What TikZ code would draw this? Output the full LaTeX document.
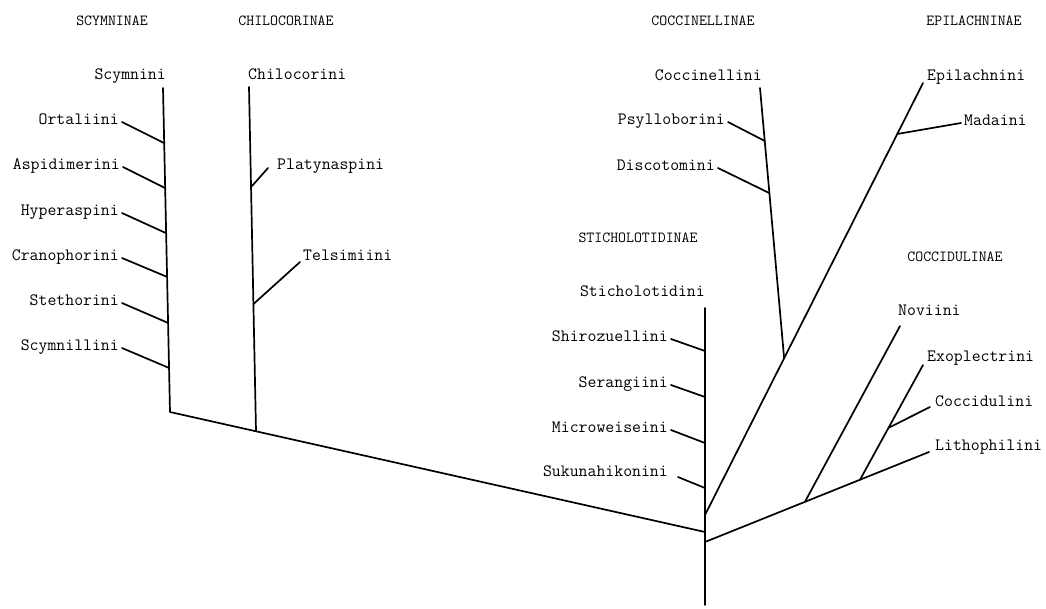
\documentclass[tikz,border=0pt]{standalone}
\usepackage{fontspec}
\usetikzlibrary{calc}
\begin{document}
\begin{tikzpicture}[x=1pt,y=-1pt,
  br/.style={line width=1.7pt, line cap=round, line join=round},
  lab/.style={font=\ttfamily\fontsize{17.3}{18}\selectfont, inner sep=3pt},
  labR/.style={lab, anchor=mid east},
  labL/.style={lab, anchor=mid west},
  hdr/.style={font=\ttfamily\fontsize{15.4}{16}\selectfont, inner sep=0pt, anchor=mid}]
\useasboundingbox (0,0) rectangle (1046,608);

% headers
\node[hdr] (hScy) at (112,23) {SCYMNINAE};
\node[hdr] (hChi) at (286,23) {CHILOCORINAE};
\node[hdr] (hCoc) at (703,23) {COCCINELLINAE};
\node[hdr] (hEpi) at (974,23) {EPILACHNINAE};
\node[hdr] (hSti) at (638,240) {STICHOLOTIDINAE};
\node[hdr] (hCdl) at (955,259) {COCCIDULINAE};

% labels
\node[labR] (scy) at (169,77) {Scymnini};
\node[labR] (ort) at (122,122) {Ortaliini};
\node[labR] (asp) at (123,167) {Aspidimerini};
\node[labR] (hyp) at (122,213) {Hyperaspini};
\node[labR] (cra) at (122,258) {Cranophorini};
\node[labR] (ste) at (122,303) {Stethorini};
\node[labR] (scl) at (122,348) {Scymnillini};
\node[labL] (chi) at (245,77) {Chilocorini};
\node[labL] (pla) at (274,167) {Platynaspini};
\node[labL] (tel) at (300,258) {Telsimiini};
\node[labR] (cci) at (765,78) {Coccinellini};
\node[labR] (psy) at (728,122) {Psylloborini};
\node[labR] (dis) at (718,168) {Discotomini};
\node[labR] (sti) at (708,294) {Sticholotidini};
\node[labR] (shi) at (671,339) {Shirozuellini};
\node[labR] (ser) at (671,385) {Serangiini};
\node[labR] (mic) at (671,430) {Microweiseini};
\node[labR] (suk) at (671,474) {Sukunahikonini};
\node[labL] (epi) at (924,78) {Epilachnini};
\node[labL] (mad) at (961,123) {Madaini};
\node[labL] (nov) at (895,313) {Noviini};
\node[labL] (exo) at (924,359) {Exoplectrini};
\node[labL] (coc) at (932,404) {Coccidulini};
\node[labL] (lit) at (932,448) {Lithophilini};

% skeleton coordinates
\coordinate (sTop) at (163,88);
\coordinate (sBot) at (170,412);
\coordinate (cTop) at (249,87);
\coordinate (cBot) at (256,431);
\coordinate (stTop) at (705,308);
\coordinate (stBot) at (705,605);
\coordinate (jEp) at (705,515);
\coordinate (jL) at (705,532);
\coordinate (jR) at (705,542);
\coordinate (jSh) at (705,351);
\coordinate (jSe) at (705,397);
\coordinate (jMi) at (705,443);
\coordinate (jSu) at (705,488);
\coordinate (epTop) at (923,83);
\coordinate (ciTop) at (760,88);
\coordinate (nvTop) at (900,326);
\coordinate (litE) at ($(lit.mid west)+(-3,4)$);
\coordinate (exE) at ($(exo.mid west)+(-1,6)$);

\path (sTop) -- (sBot)
  coordinate[pos=0.170] (jO) coordinate[pos=0.309] (jA)
  coordinate[pos=0.448] (jH) coordinate[pos=0.583] (jC)
  coordinate[pos=0.725] (jS) coordinate[pos=0.864] (jSc);
\path (cTop) -- (cBot) coordinate[pos=0.291] (jP) coordinate[pos=0.631] (jT);
\path (jEp) -- (epTop) coordinate[pos=0.363] (jCo) coordinate[pos=0.882] (jMa);
\path (ciTop) -- (jCo) coordinate[pos=0.196] (jPs) coordinate[pos=0.389] (jDi);
\path (jR) -- (litE) coordinate[pos=0.446] (jN) coordinate[pos=0.692] (jX);
\path (jX) -- (exE) coordinate[pos=0.452] (jCd);

% Scymninae
\draw[br] (sTop) -- (sBot) -- (jL);
\draw[br] (jO) -- (ort.mid east);
\draw[br] (jA) -- (asp.mid east);
\draw[br] (jH) -- (hyp.mid east);
\draw[br] (jC) -- (cra.mid east);
\draw[br] (jS) -- (ste.mid east);
\draw[br] (jSc) -- (scl.mid east);
% Chilocorinae
\draw[br] (cTop) -- (cBot);
\draw[br] (jP) -- ($(pla.mid west)+(-6,1)$);
\draw[br] (jT) -- ($(tel.mid west)+(0,4)$);
% Sticholotidinae
\draw[br] (stTop) -- (stBot);
\draw[br] (jSh) -- (shi.mid east);
\draw[br] (jSe) -- (ser.mid east);
\draw[br] (jMi) -- (mic.mid east);
\draw[br] (jSu) -- ($(suk.mid east)+(7,3)$);
% Epilachninae + Coccinellinae
\draw[br] (jEp) -- (epTop);
\draw[br] (jMa) -- (mad.mid west);
\draw[br] (ciTop) -- (jCo);
\draw[br] (jPs) -- (psy.mid east);
\draw[br] (jDi) -- (dis.mid east);
% Coccidulinae
\draw[br] (jR) -- (litE);
\draw[br] (jN) -- (nvTop);
\draw[br] (jX) -- (exE);
\draw[br] (jCd) -- ($(coc.mid west)+(-2,3)$);
\end{tikzpicture}
\end{document}
